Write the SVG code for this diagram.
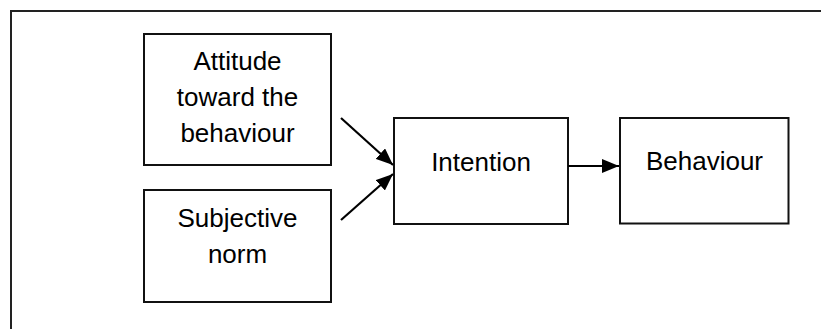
<svg xmlns="http://www.w3.org/2000/svg" width="821" height="329" viewBox="0 0 821 329">
<style>
.box{fill:#fff;stroke:#111;stroke-width:2}
.lbl{font-family:"Liberation Sans",Arial,sans-serif;font-size:26px;fill:#000;text-anchor:middle}
.con{stroke:#000;stroke-width:2.2;fill:none}
</style>
<defs>
<marker id="ah" markerUnits="userSpaceOnUse" markerWidth="17" markerHeight="14" refX="17" refY="7" orient="auto">
<path d="M0,0 L17,7 L0,14 z" fill="#000"/>
</marker>
</defs>
<rect width="821" height="329" fill="#fff"/>
<path d="M11,329 V11 H821" fill="none" stroke="#222" stroke-width="2"/>
<g id="attitude">
<rect class="box" x="144" y="34" width="187" height="131"/>
<text class="lbl" x="237.5" y="70">Attitude</text>
<text class="lbl" x="237.5" y="106">toward the</text>
<text class="lbl" x="237.5" y="142">behaviour</text>
</g>
<g id="subjective-norm">
<rect class="box" x="144" y="190" width="187" height="112"/>
<text class="lbl" x="237.5" y="227">Subjective</text>
<text class="lbl" x="237.5" y="263">norm</text>
</g>
<g id="intention">
<rect class="box" x="394" y="118" width="174" height="106"/>
<text class="lbl" x="481" y="171">Intention</text>
</g>
<g id="behaviour">
<rect class="box" x="620" y="118" width="168.5" height="105.5"/>
<text class="lbl" x="704.5" y="170">Behaviour</text>
</g>
<g id="connectors">
<line class="con" x1="341" y1="118" x2="393" y2="165" marker-end="url(#ah)"/>
<line class="con" x1="341" y1="220" x2="393" y2="174" marker-end="url(#ah)"/>
<line class="con" x1="568" y1="166" x2="619" y2="166" marker-end="url(#ah)"/>
</g>
</svg>
